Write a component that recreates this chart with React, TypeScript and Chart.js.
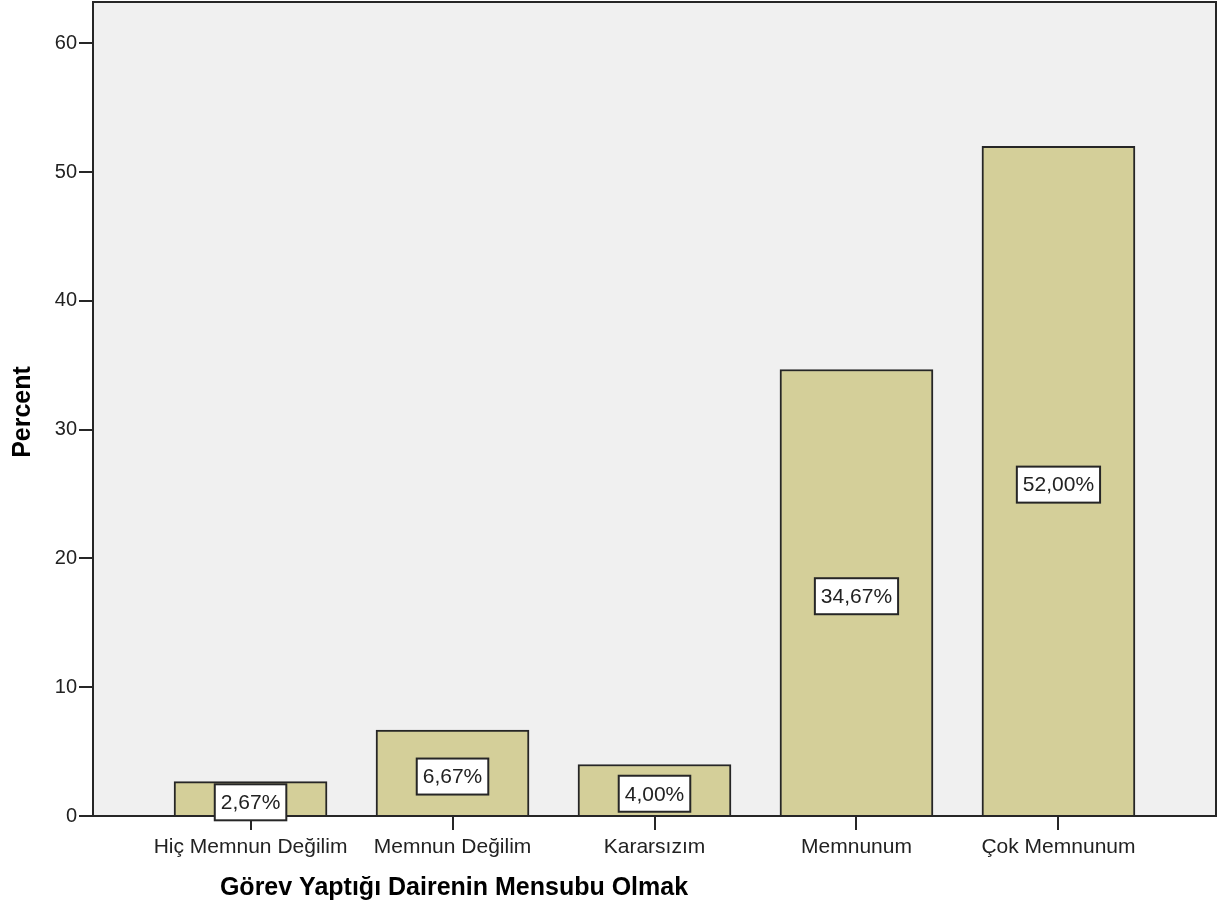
import React, { useEffect, useRef } from "react";
import { Chart, registerables } from "chart.js";

Chart.register(...registerables);

const categories = ["Hiç Memnun Değilim", "Memnun Değilim", "Kararsızım", "Memnunum", "Çok Memnunum"];
const percents = [2.67, 6.67, 4.0, 34.67, 52.0];
const yTickValues = [0, 10, 20, 30, 40, 50, 60];
const xTitle = "Görev Yaptığı Dairenin Mensubu Olmak";
const yTitle = "Percent";

const FONT = '"Liberation Sans", Arial, Helvetica, sans-serif';
const BAR_COLOR = "#d4cf99";
const EDGE = "#262626";

const fmt = (v: number) => v.toFixed(2).replace(".", ",") + "%";

const framePlugin = {
  id: "frame",
  beforeDatasetsDraw(chart: any) {
    const { ctx, chartArea: a } = chart;
    ctx.save();
    ctx.fillStyle = "#f0f0f0";
    ctx.fillRect(a.left, a.top, a.right - a.left, a.bottom - a.top);
    ctx.restore();
  },
  afterDatasetsDraw(chart: any) {
    const { ctx, chartArea: a } = chart;
    ctx.save();
    ctx.strokeStyle = EDGE;
    ctx.lineWidth = 2;
    ctx.strokeRect(a.left, a.top, a.right - a.left, a.bottom - a.top);
    ctx.restore();
  },
  afterDraw(chart: any) {
    const { ctx, chartArea: a } = chart;
    const meta = chart.getDatasetMeta(0);
    ctx.save();
    ctx.font = `21px ${FONT}`;
    ctx.textAlign = "center";
    ctx.textBaseline = "middle";
    meta.data.forEach((el: any, i: number) => {
      const text = fmt(percents[i]);
      const w = ctx.measureText(text).width + 12;
      const h = 36;
      const cx = el.x;
      const cy = (el.y + el.base) / 2 + 4;
      ctx.fillStyle = "#ffffff";
      ctx.fillRect(cx - w / 2, cy - h / 2, w, h);
      ctx.strokeStyle = EDGE;
      ctx.lineWidth = 2;
      ctx.strokeRect(cx - w / 2, cy - h / 2, w, h);
      ctx.fillStyle = "#222222";
      ctx.fillText(text, cx, cy + 1);
    });
    ctx.fillStyle = "#000000";
    ctx.font = `bold 25px ${FONT}`;
    ctx.fillText(xTitle, 454, 888);
    ctx.translate(23, (a.top + a.bottom) / 2 + 3);
    ctx.rotate(-Math.PI / 2);
    ctx.fillText(yTitle, 0, 0);
    ctx.restore();
  },
};

const zeroPad = (s: any) => {
  s.paddingTop = 0;
  s.paddingBottom = 0;
  s.paddingLeft = 0;
  s.paddingRight = 0;
};

export default function App() {
  const ref = useRef<HTMLCanvasElement | null>(null);
  useEffect(() => {
    if (!ref.current) return;
    const chart = new Chart(ref.current, {
      type: "bar",
      data: {
        datasets: [
          {
            data: percents.map((v, i) => ({ x: i, y: v })),
            backgroundColor: BAR_COLOR,
            borderColor: EDGE,
            borderWidth: 2,
            barThickness: 153,
          } as any,
        ],
      },
      options: {
        responsive: false,
        animation: false,
        layout: { padding: { top: 2, right: 6, left: 0, bottom: 0 } },
        plugins: { legend: { display: false }, tooltip: { enabled: false } },
        scales: {
          x: {
            type: "linear",
            min: -0.78,
            max: 4.78,
            offset: false,
            afterBuildTicks: (s: any) => {
              s.ticks = categories.map((_, i) => ({ value: i }));
            },
            afterFit: (s: any) => {
              s.height = 99;
              zeroPad(s);
            },
            ticks: {
              callback: (v: any) => categories[v as number] ?? "",
              font: { family: FONT, size: 21 },
              color: "#222222",
              padding: 5,
              maxRotation: 0,
              autoSkip: false,
            },
            grid: { offset: false, drawOnChartArea: false, tickLength: 14, color: EDGE, lineWidth: 2 },
            border: { display: false },
          },
          y: {
            type: "linear",
            min: 0,
            max: 63.2,
            afterBuildTicks: (s: any) => {
              s.ticks = yTickValues.map((v) => ({ value: v }));
            },
            afterFit: (s: any) => {
              s.width = 93;
              zeroPad(s);
            },
            ticks: {
              font: { family: FONT, size: 20 },
              color: "#222222",
              padding: 2,
            },
            grid: { drawOnChartArea: false, tickLength: 14, color: EDGE, lineWidth: 2 },
            border: { display: false },
          },
        },
      },
      plugins: [framePlugin],
    });
    return () => chart.destroy();
  }, []);
  return (
    <div style={{ position: "fixed", left: 0, top: 0, width: 1222, height: 915, background: "#fff" }}>
      <canvas ref={ref} width={1222} height={915} />
    </div>
  );
}
